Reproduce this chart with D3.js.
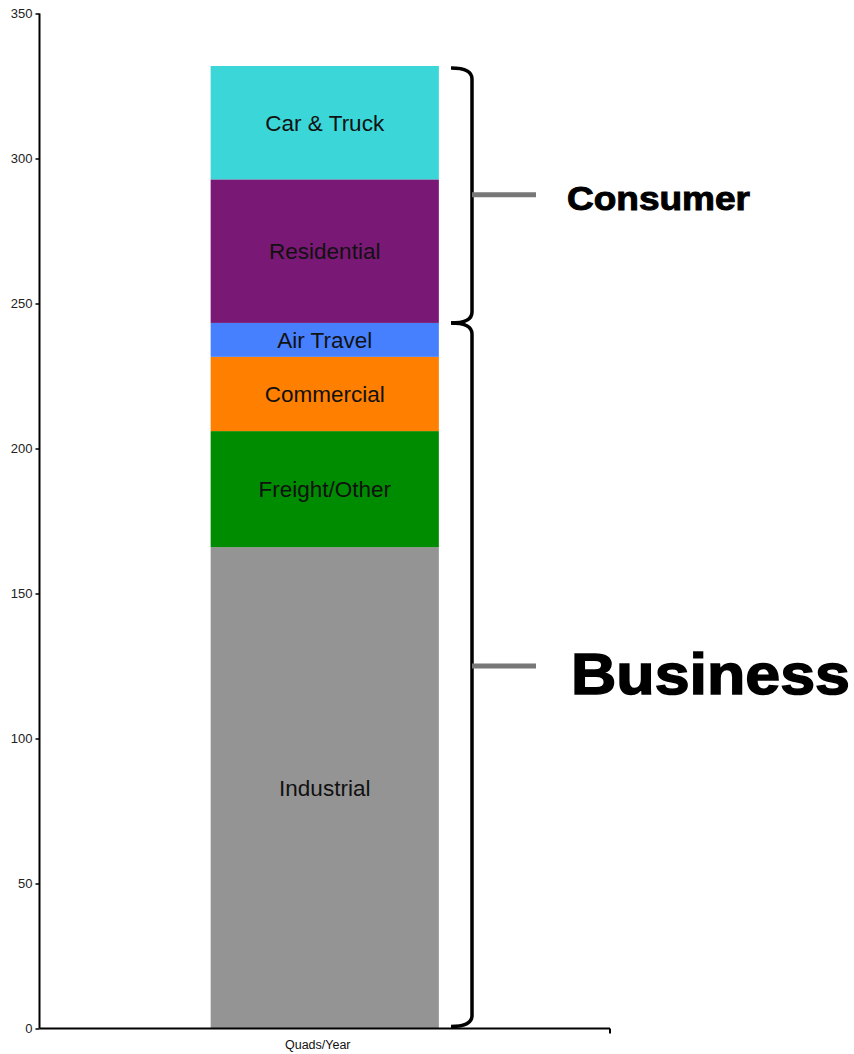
<!DOCTYPE html>
<html><head><meta charset="utf-8">
<script src="https://cdn.jsdelivr.net/npm/d3@7"></script>
<style>html,body{margin:0;padding:0;background:#fff;}svg{display:block;}</style>
</head><body>
<svg id="chart" width="854" height="1054"></svg>
<script>
const categories = ["Quads/Year"];
const segments = ["Industrial", "Freight/Other", "Commercial", "Air Travel", "Residential", "Car & Truck"];
const values = [166.0, 40.0, 25.6, 11.7, 49.5, 39.1];
const colors = ["#949494", "#008c00", "#ff7f00", "#4680ff", "#7a1875", "#3ad6d8"];
const yTicks = [0, 50, 100, 150, 200, 250, 300, 350];
const groupNames = ["Business", "Consumer"];
const groupMembers = [[0, 1, 2, 3], [4, 5]];
const groupLabelAt = [125, 287.5];

const svg = d3.select("#chart");
const m = {left: 39.5, right: 610, top: 13.5, bottom: 1028.5};

const y = d3.scaleLinear().domain([0, 350]).range([m.bottom, m.top]);
const x = d3.scaleBand().domain(categories).range([m.left, m.right]).paddingInner(0.6).paddingOuter(0.3);

// stack
let acc = 0;
const stack = values.map((v, i) => { const s = {name: segments[i], y0: acc, y1: acc + v, color: colors[i]}; acc += v; return s; });

const bx = x(categories[0]), bw = x.bandwidth();
svg.append("g").selectAll("rect").data(stack).join("rect")
  .attr("x", bx).attr("width", bw)
  .attr("y", d => y(d.y1)).attr("height", d => y(d.y0) - y(d.y1))
  .attr("fill", d => d.color);

svg.append("g").selectAll("text").data(stack).join("text")
  .attr("x", bx + bw / 2).attr("y", d => y((d.y0 + d.y1) / 2))
  .attr("dy", "0.36em").attr("text-anchor", "middle")
  .attr("font-family", "'Liberation Sans', Arial, sans-serif").attr("font-size", 22.5)
  .attr("fill", "#111").text(d => d.name);

// y axis
const yAxis = svg.append("g").attr("transform", `translate(${m.left},0)`)
  .call(d3.axisLeft(y).tickValues(yTicks).tickSize(4).tickPadding(3));
yAxis.select(".domain").attr("stroke", "#000").attr("stroke-width", 2).attr("d", `M0,${m.top}V${m.bottom}`);
yAxis.selectAll(".tick line").attr("stroke", "#000").attr("stroke-width", 1.5);
yAxis.selectAll(".tick text").attr("font-family", "'Liberation Sans', Arial, sans-serif").attr("font-size", 13).attr("fill", "#222");

// x axis
const xAxis = svg.append("g").attr("transform", `translate(0,${m.bottom})`)
  .call(d3.axisBottom(x).tickSize(0).tickPadding(12));
xAxis.select(".domain").attr("stroke", "#000").attr("stroke-width", 2)
  .attr("d", `M${m.left},0H${m.right}M${m.right},0V5`);
xAxis.selectAll(".tick text").attr("font-family", "'Liberation Sans', Arial, sans-serif").attr("font-size", 12.5)
  .attr("dx", -7).attr("fill", "#111");

// braces
const braceX = 472, hookX = 451;
groupMembers.forEach((mem, gi) => {
  const lo = stack[mem[0]].y0, hi = stack[mem[mem.length - 1]].y1;
  const yt = y(hi) + (gi === 1 ? 2 : 0), yb = y(lo) - (gi === 0 ? 2 : 0);
  const r = 11;
  const p = `M${hookX},${yt} Q${braceX},${yt} ${braceX},${yt + r} L${braceX},${yb - r} Q${braceX},${yb} ${hookX},${yb}`;
  svg.append("path").attr("d", p).attr("fill", "none").attr("stroke", "#000").attr("stroke-width", 3.5);
  const ly = y(groupLabelAt[gi]);
  svg.append("line").attr("x1", braceX).attr("x2", 536).attr("y1", ly).attr("y2", ly)
    .attr("stroke", "#777").attr("stroke-width", 5);
  const big = gi === 0;
  svg.append("text").attr("x", big ? 571 : 567)
    .attr("y", ly + (big ? 28 : 15))
    .attr("font-family", "'Liberation Sans', Arial, sans-serif").attr("font-weight", "bold")
    .attr("font-size", big ? 58 : 34)
    .attr("textLength", big ? 279 : 183).attr("lengthAdjust", "spacingAndGlyphs")
    .attr("fill", "#000").attr("stroke", "#000").attr("stroke-width", big ? 1.5 : 1)
    .text(groupNames[gi]);
});
</script>
</body></html>
